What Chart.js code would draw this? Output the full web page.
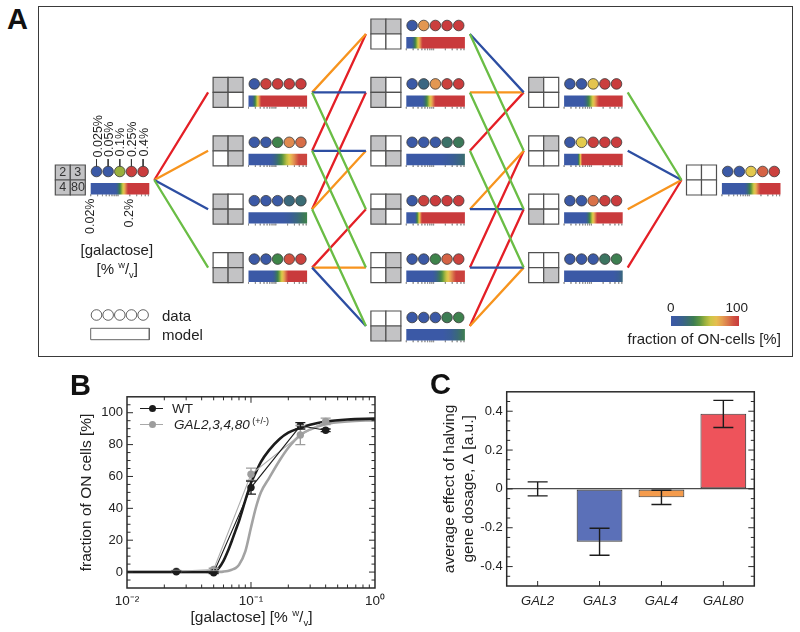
<!DOCTYPE html>
<html><head><meta charset="utf-8">
<script src="https://cdn.jsdelivr.net/npm/chart.js@4.4.1/dist/chart.umd.min.js"></script>
<style>
html,body{margin:0;padding:0;background:#fff}
body{position:relative;width:800px;height:632px;overflow:hidden;font-family:"Liberation Sans",Arial,Helvetica,sans-serif;color:#222}
.t{position:absolute;white-space:nowrap;line-height:1}
.cv{position:absolute}
#frameA{position:absolute;left:37.5px;top:5.5px;width:755px;height:351px;border:1.5px solid #3a3a3a;box-sizing:border-box}
sup,sub{font-size:0.62em;line-height:0}
.mk{position:absolute}
</style></head>
<body>
<div id="frameA"></div>
<div class="cv" style="left:39px;top:7px;width:752px;height:348px"><canvas id="cA" width="752" height="348"></canvas></div>
<div class="cv" style="left:60px;top:385px;width:330px;height:247px"><canvas id="cB" width="330" height="247"></canvas></div>
<div class="cv" style="left:420px;top:380px;width:380px;height:252px"><canvas id="cC" width="380" height="252"></canvas></div>
<!-- legend markers of panel B -->
<div class="mk" style="left:140px;top:407.6px;width:23px;height:1.6px;background:#1c1c1c"></div>
<div class="mk" style="left:149px;top:404.8px;width:7.4px;height:7.4px;border-radius:50%;background:#1c1c1c"></div>
<div class="mk" style="left:140px;top:423.6px;width:23px;height:1.6px;background:#a8a8a8"></div>
<div class="mk" style="left:149px;top:420.8px;width:7.4px;height:7.4px;border-radius:50%;background:#9d9d9d"></div>
<script>
// ================= DATA =================
// Panel A: genotypes (halved genes) per level of the lattice
const genes = ['2', '3', '4', '80'];            // quadrant order: TL, TR, BL, BR
const level0 = [''];
const level1 = ['80', '4', '3', '2'];
const level2 = ['4,80', '3,80', '3,4', '2,80', '2,4', '2,3'];
const level3 = ['3,4,80', '2,4,80', '2,3,80', '2,3,4'];
const level4 = ['2,3,4,80'];
const concentrations = ['0.025%', '0.05%', '0.1%', '0.25%', '0.4%'];
// measured fraction of ON cells [%] at the five concentrations (data circles)
const onLevel0 = [[0, 1, 50, 98, 99]];
const onLevel1 = [[1, 97, 99, 99, 99], [0, 1, 36, 80, 86], [0, 0, 2, 22, 24], [0, 1, 37, 92, 97]];
const onLevel2 = [[1, 77, 98, 99, 99], [0, 20, 77, 97, 99], [0, 0, 1, 27, 31], [1, 97, 99, 99, 99], [0, 1, 36, 88, 96], [0, 0, 1, 33, 35]];
const onLevel3 = [[0, 1, 65, 98, 99], [1, 63, 98, 99, 99], [0, 1, 85, 98, 99], [0, 0, 1, 29, 34]];
const onLevel4 = [[0, 1, 64, 88, 97]];
// model: [switch onset, saturation (fraction of the log-galactose strip), max ON fraction]
const modelLevel0 = [[0.42, 0.64, 1]];
const modelLevel1 = [[0.05, 0.22, 1], [0.36, 0.86, 0.95], [0.58, 1.0, 0.36], [0.40, 0.68, 1]];
const modelLevel2 = [[0.08, 0.28, 1], [0.26, 0.50, 1], [0.60, 1.0, 0.26], [0.14, 0.27, 1], [0.44, 0.85, 0.97], [0.62, 1.0, 0.34]];
const modelLevel3 = [[0.32, 0.60, 1], [0.22, 0.31, 1], [0.36, 0.57, 1], [0.84, 1.0, 0.22]];
const modelLevel4 = [[0.38, 0.66, 1]];
const stripTickValues = [0.02, 0.03, 0.04, 0.05, 0.06, 0.07, 0.08, 0.09, 0.1, 0.2, 0.3, 0.4, 0.5, 0.6];

// Panel B
const galactose = [0.025, 0.05, 0.1, 0.25, 0.4];
const wtOn = [0.2, -0.4, 53, 91.8, 89];
const wtErr = [0.4, 0.5, 4.1, 2, 0.8];
const mutOn = [0.5, 1.6, 61.4, 86, 94.6];
const mutErr = [0.5, 0.8, 3.8, 6, 2];
const fitGalactose = [0.01, 0.02, 0.04, 0.05, 0.055, 0.06, 0.065, 0.07, 0.075, 0.08, 0.09, 0.1, 0.11, 0.12, 0.14, 0.17, 0.2, 0.25, 0.3, 0.4, 0.6, 1];
const wtFit = [0, 0, 0, 0.3, 2.5, 7, 13, 19.5, 26, 32, 45, 56, 63, 69, 76.5, 83.5, 87.5, 90.5, 92.5, 94.5, 95.8, 96.3];
const mutFit = [0, 0, 0, 0, 0.1, 0.3, 0.7, 1.5, 2.5, 4.5, 13, 28, 41, 50, 59, 70, 78, 86, 89.5, 92.8, 94.5, 95.3];
const xTickValuesB = [0.01, 0.1, 1];
const xTickLabelsB = ['10\u207B\u00B2', '10\u207B\u00B9', '10\u2070'];
const yTickValuesB = [0, 20, 40, 60, 80, 100];

// Panel C
const genesC = ['GAL2', 'GAL3', 'GAL4', 'GAL80'];
const delta = [0, -0.272, -0.043, 0.387];
const deltaLo = [-0.036, -0.342, -0.08, 0.316];
const deltaHi = [0.036, -0.203, -0.007, 0.456];
const yTickValuesC = [-0.4, -0.2, 0, 0.2, 0.4];

// ================= STYLE / LAYOUT =================
Chart.defaults.font.family = '"Liberation Sans", Arial, Helvetica, sans-serif';
Chart.defaults.color = '#222';
const geneColors = {'2': '#6abd45', '3': '#2d4ea2', '4': '#f7941e', '80': '#e41f26'};
const barColors = ['#6abd45', '#5b70b8', '#f49b4c', '#ee535b'];
const cmapStops = [
  [0.00, [59, 89, 166]], [0.12, [58, 93, 152]], [0.22, [58, 104, 124]], [0.30, [60, 118, 92]],
  [0.37, [63, 133, 72]], [0.45, [112, 161, 62]], [0.52, [170, 182, 62]], [0.62, [226, 207, 76]],
  [0.71, [232, 175, 82]], [0.79, [225, 143, 80]], [0.87, [214, 104, 70]], [0.94, [205, 72, 63]],
  [1.00, [201, 58, 60]]
];
function cmap(f) {
  f = Math.max(0, Math.min(1, f));
  for (let i = 1; i < cmapStops.length; i++) {
    const [f1, c1] = cmapStops[i], [f0, c0] = cmapStops[i - 1];
    if (f <= f1) {
      const u = (f - f0) / (f1 - f0);
      const c = c0.map((v, j) => Math.round(v + (c1[j] - v) * u));
      return 'rgb(' + c.join(',') + ')';
    }
  }
  return 'rgb(201,58,60)';
}
const A_X = 39, A_Y = 7, A_W = 752, A_H = 348;
const LVL_X0 = 55.3, LVL_DX = 157.8, ROW_Y0 = 180, ROW_DY = 58.4;
const QUAD = 15, CIRC_X0 = 41.2, CIRC_DX = 11.65, CIRC_DY = -8.5, CIRC_R = 5.3;
const STRIP_X0 = 35.4, STRIP_X1 = 94, STRIP_DY = 8.7, STRIP_H = 11.4;
const EDGE_OUT = 99, EDGE_IN = -5;
const LEG_DATA_Y = 315, LEG_MODEL_Y = 334, CBAR_X0 = 671, CBAR_X1 = 739, CBAR_Y = 321;

// ================= PANEL A =================
const levels = [level0, level1, level2, level3, level4];
const onLevels = [onLevel0, onLevel1, onLevel2, onLevel3, onLevel4];
const modelLevels = [modelLevel0, modelLevel1, modelLevel2, modelLevel3, modelLevel4];
const nodes = [];
levels.forEach((arr, L) => arr.forEach((key, i) => {
  nodes.push({key, level: L, bx: LVL_X0 + L * LVL_DX, cy: ROW_Y0 + (i - (arr.length - 1) / 2) * ROW_DY,
              on: onLevels[L][i], sw: modelLevels[L][i]});
}));
const halved = k => k ? k.split(',') : [];

const edgeData = {}; genes.forEach(g => edgeData[g] = []);
nodes.forEach(p => nodes.forEach(c => {
  if (c.level !== p.level + 1) return;
  const ps = halved(p.key), cs = halved(c.key);
  if (!ps.every(g => cs.includes(g))) return;
  const g = cs.find(x => !ps.includes(x));
  edgeData[g].push({x: p.bx + EDGE_OUT, y: p.cy}, {x: c.bx + EDGE_IN, y: c.cy}, {x: c.bx, y: null});
}));

const cellPts = [], cellCols = [];
nodes.forEach(n => { const hs = halved(n.key); genes.forEach((g, gi) => {
  cellPts.push({x: n.bx + QUAD / 2 + QUAD * (gi % 2), y: n.cy - QUAD / 2 + QUAD * Math.floor(gi / 2)});
  cellCols.push(hs.includes(g) ? '#ffffff' : '#c3c3c5');
}); });

const circPts = [], circCols = [];
nodes.forEach(n => n.on.forEach((v, k) => {
  circPts.push({x: n.bx + CIRC_X0 + k * CIRC_DX, y: n.cy + CIRC_DY});
  circCols.push(cmap(v / 100));
}));
concentrations.forEach((c, k) => { circPts.push({x: LVL_X0 + CIRC_X0 + k * CIRC_DX, y: LEG_DATA_Y}); circCols.push('#ffffff'); });

const stripPos = v => Math.log10(v / stripTickValues[0]) / 1.5;
const tickPts = [];
nodes.forEach(n => stripTickValues.forEach(v => {
  const x = n.bx + STRIP_X0 + stripPos(v) * (STRIP_X1 - STRIP_X0);
  const yb = n.cy + STRIP_DY + STRIP_H / 2;
  tickPts.push({x, y: yb}, {x, y: yb + 1.8}, {x, y: null});
}));
// small guide lines from the root circles to the concentration labels
const guidePts = [];
concentrations.forEach((c, k) => { const x = LVL_X0 + CIRC_X0 + k * CIRC_DX;
  guidePts.push({x, y: 159}, {x, y: 168.5}, {x, y: null}); });

function gradientFor(chart, x0, x1, sw) {
  const xs = chart.scales && chart.scales.x;
  if (!xs) return '#3b59a6';
  const p0 = xs.getPixelForValue(x0), p1 = xs.getPixelForValue(x1);
  if (!isFinite(p0) || !isFinite(p1) || p0 === p1) return '#3b59a6';
  const g = chart.ctx.createLinearGradient(p0, 0, p1, 0);
  const [t0, t1, fmax] = sw;
  g.addColorStop(0, cmap(0));
  g.addColorStop(t0, cmap(0));
  const n = 12;
  for (let i = 1; i <= n; i++) g.addColorStop(Math.min(1, t0 + (t1 - t0) * i / n), cmap(fmax * i / n));
  g.addColorStop(1, cmap(fmax));
  return g;
}

const dsA = [];
genes.forEach(g => dsA.push({data: edgeData[g], showLine: true, borderColor: geneColors[g], borderWidth: 2.3,
  pointRadius: 0, spanGaps: false, order: 9}));
nodes.forEach(n => dsA.push({data: [{x: n.bx + STRIP_X0, y: n.cy + STRIP_DY}, {x: n.bx + STRIP_X1, y: n.cy + STRIP_DY}],
  showLine: true, borderWidth: STRIP_H, borderCapStyle: 'butt', pointRadius: 0, order: 5,
  borderColor: ctx => gradientFor(ctx.chart, n.bx + STRIP_X0, n.bx + STRIP_X1, n.sw)}));
dsA.push({data: tickPts, showLine: true, borderColor: '#8a8a8a', borderWidth: 0.7, pointRadius: 0, spanGaps: false, order: 6});
dsA.push({data: guidePts, showLine: true, borderColor: '#333', borderWidth: 0.9, pointRadius: 0, spanGaps: false, order: 6});
// model legend box and colour bar
const mx0 = LVL_X0 + STRIP_X0, mx1 = LVL_X0 + STRIP_X1, mh = STRIP_H / 2;
dsA.push({data: [{x: mx0, y: LEG_MODEL_Y - mh}, {x: mx1, y: LEG_MODEL_Y - mh}, {x: mx1, y: LEG_MODEL_Y + mh}, {x: mx0, y: LEG_MODEL_Y + mh}, {x: mx0, y: LEG_MODEL_Y - mh}],
  showLine: true, borderColor: '#666', borderWidth: 1, pointRadius: 0, order: 6});
dsA.push({data: [{x: CBAR_X0, y: CBAR_Y}, {x: CBAR_X1, y: CBAR_Y}], showLine: true, borderWidth: 10, borderCapStyle: 'butt',
  pointRadius: 0, order: 5, borderColor: ctx => gradientFor(ctx.chart, CBAR_X0, CBAR_X1, [0, 1, 1])});
dsA.push({data: cellPts, pointStyle: 'rect', pointRadius: QUAD / Math.SQRT2, pointBackgroundColor: cellCols,
  pointBorderColor: '#505050', pointBorderWidth: 1.2, order: 2});
dsA.push({data: circPts, pointStyle: 'circle', pointRadius: CIRC_R, pointBackgroundColor: circCols,
  pointBorderColor: '#3a3a3a', pointBorderWidth: 0.8, order: 1});

new Chart(document.getElementById('cA'), {
  type: 'scatter',
  data: {datasets: dsA},
  options: {responsive: false, animation: false, devicePixelRatio: 1, events: [],
    layout: {padding: 0, autoPadding: false},
    plugins: {legend: {display: false}, tooltip: {enabled: false}},
    scales: {x: {type: 'linear', display: false, min: A_X, max: A_X + A_W, bounds: 'data'},
             y: {type: 'linear', display: false, min: A_Y, max: A_Y + A_H, reverse: true, bounds: 'data'}}}
});

// ================= PANEL B =================
const frameB = {id: 'frameB', afterDatasetsDraw(chart) {
  const {ctx, chartArea: a, scales: {x, y}} = chart;
  ctx.save(); ctx.strokeStyle = '#2a2a2a'; ctx.lineWidth = 1;
  ctx.beginPath();
  for (let e = -2; e <= -1; e++) for (let k = 1; k <= 9; k++) {
    const v = k * Math.pow(10, e); if (v <= 0.0100001) continue;
    const px = x.getPixelForValue(v), len = k === 1 ? 6 : 3.5;
    ctx.moveTo(px, a.bottom); ctx.lineTo(px, a.bottom - len);
    ctx.moveTo(px, a.top); ctx.lineTo(px, a.top + len);
  }
  for (let v = -5; v <= 105; v += 5) {
    const py = y.getPixelForValue(v), len = v % 20 === 0 ? 6 : 3.5;
    ctx.moveTo(a.left, py); ctx.lineTo(a.left + len, py);
    ctx.moveTo(a.right, py); ctx.lineTo(a.right - len, py);
  }
  ctx.stroke();
  ctx.lineWidth = 1.5; ctx.strokeRect(a.left, a.top, a.width, a.height);
  ctx.restore();
}};
const errB = {id: 'errB', afterDatasetsDraw(chart) {
  const {ctx, scales: {x, y}} = chart;
  ctx.save(); ctx.lineWidth = 1.3;
  [[mutOn, mutErr, '#9d9d9d'], [wtOn, wtErr, '#1c1c1c']].forEach(([vals, errs, col]) => {
    ctx.strokeStyle = col; ctx.beginPath();
    galactose.forEach((g, i) => {
      const px = x.getPixelForValue(g), y0 = y.getPixelForValue(vals[i] - errs[i]), y1 = y.getPixelForValue(vals[i] + errs[i]);
      ctx.moveTo(px, y0); ctx.lineTo(px, y1);
      ctx.moveTo(px - 5, y0); ctx.lineTo(px + 5, y0); ctx.moveTo(px - 5, y1); ctx.lineTo(px + 5, y1);
    });
    ctx.stroke();
  });
  ctx.restore();
}};
new Chart(document.getElementById('cB'), {
  type: 'scatter',
  data: {datasets: [
    {data: galactose.map((x, i) => ({x, y: wtOn[i]})), showLine: true, borderColor: '#1c1c1c', borderWidth: 1.1,
     pointRadius: 3.7, pointBackgroundColor: '#1c1c1c', pointBorderWidth: 0, order: 1},
    {data: galactose.map((x, i) => ({x, y: mutOn[i]})), showLine: true, borderColor: '#adadad', borderWidth: 1.1,
     pointRadius: 3.7, pointBackgroundColor: '#9d9d9d', pointBorderWidth: 0, order: 2},
    {data: fitGalactose.map((x, i) => ({x, y: wtFit[i]})), showLine: true, borderColor: '#1c1c1c', borderWidth: 2.6,
     pointRadius: 0, cubicInterpolationMode: 'monotone', order: 3},
    {data: fitGalactose.map((x, i) => ({x, y: mutFit[i]})), showLine: true, borderColor: '#a3a3a3', borderWidth: 2.6,
     pointRadius: 0, cubicInterpolationMode: 'monotone', order: 4}
  ]},
  options: {responsive: false, animation: false, devicePixelRatio: 1, events: [],
    layout: {padding: {top: 7.7, right: 14.3, left: 0, bottom: 0}, autoPadding: false},
    plugins: {legend: {display: false}, tooltip: {enabled: false}},
    scales: {
      x: {type: 'logarithmic', min: 0.01, max: 1,
          afterBuildTicks: s => { s.ticks = xTickValuesB.map(v => ({value: v})); },
          ticks: {autoSkip: false, maxRotation: 0, padding: 5, font: {size: 13.5}, color: '#222',
                  callback: v => { const i = xTickValuesB.indexOf(v); return i >= 0 ? xTickLabelsB[i] : ''; }},
          grid: {display: false, drawTicks: false}, border: {display: false},
          afterFit: s => { s.height = 44; }},
      y: {type: 'linear', min: -10, max: 110,
          afterBuildTicks: s => { s.ticks = yTickValuesB.map(v => ({value: v})); },
          ticks: {padding: 4, font: {size: 13}, color: '#222'},
          grid: {display: false, drawTicks: false}, border: {display: false},
          title: {display: true, text: 'fraction of ON cells [%]', font: {size: 15.5}, color: '#222', padding: {top: 17.7, bottom: 0}},
          afterFit: s => { s.width = 67; }}
    }},
  plugins: [frameB, errB]
});

// ================= PANEL C =================
const frameC = {id: 'frameC', afterDatasetsDraw(chart) {
  const {ctx, chartArea: a, scales: {x, y}} = chart;
  ctx.save(); ctx.strokeStyle = '#2a2a2a'; ctx.lineWidth = 1; ctx.beginPath();
  for (let i = -9; i <= 9; i++) {
    const py = y.getPixelForValue(i * 0.05), len = i % 4 === 0 ? 6 : 3.5;
    ctx.moveTo(a.left, py); ctx.lineTo(a.left + len, py);
    ctx.moveTo(a.right, py); ctx.lineTo(a.right - len, py);
  }
  genesC.forEach((g, i) => { const px = x.getPixelForValue(i); ctx.moveTo(px, a.bottom); ctx.lineTo(px, a.bottom - 5); });
  ctx.stroke();
  ctx.lineWidth = 1.5; ctx.strokeRect(a.left, a.top, a.width, a.height);
  ctx.restore();
}};
const errC = {id: 'errC', afterDatasetsDraw(chart) {
  const {ctx, scales: {x, y}} = chart;
  ctx.save(); ctx.strokeStyle = '#1c1c1c'; ctx.lineWidth = 1.4; ctx.beginPath();
  genesC.forEach((g, i) => {
    const px = x.getPixelForValue(i), y0 = y.getPixelForValue(deltaLo[i]), y1 = y.getPixelForValue(deltaHi[i]);
    ctx.moveTo(px, y0); ctx.lineTo(px, y1);
    ctx.moveTo(px - 10, y0); ctx.lineTo(px + 10, y0); ctx.moveTo(px - 10, y1); ctx.lineTo(px + 10, y1);
  });
  ctx.stroke(); ctx.restore();
}};
new Chart(document.getElementById('cC'), {
  type: 'bar',
  data: {labels: genesC, datasets: [{data: delta, backgroundColor: barColors, borderColor: '#3b3b3b', borderWidth: 1.1,
    borderSkipped: false, barPercentage: 0.74, categoryPercentage: 1}]},
  options: {responsive: false, animation: false, devicePixelRatio: 1, events: [],
    layout: {padding: {top: 10, right: 45.7, left: 0, bottom: 0}, autoPadding: false},
    plugins: {legend: {display: false}, tooltip: {enabled: false}},
    scales: {
      x: {grid: {display: false, drawTicks: false}, border: {display: false},
          ticks: {font: {size: 13, style: 'italic'}, color: '#222', padding: 8},
          afterFit: s => { s.height = 46; }},
      y: {min: -0.5, max: 0.5,
          afterBuildTicks: s => { s.ticks = yTickValuesC.map(v => ({value: v})); },
          ticks: {padding: 4, font: {size: 13}, color: '#222', callback: v => v === 0 ? '0' : v.toFixed(1)},
          grid: {drawTicks: false, lineWidth: 1.3, color: c => (c.tick && c.tick.value === 0) ? '#4a4a4a' : 'rgba(0,0,0,0)'},
          border: {display: false},
          title: {display: true, text: ['average effect of halving', 'gene dosage, \u0394 [a.u.]'], font: {size: 15.5}, color: '#222',
                  padding: {top: 20.7, bottom: 0}},
          afterFit: s => { s.width = 86.7; }}
    }},
  plugins: [frameC, errC]
});

// ================= TEXT =================
function addText(html, x, y, size, o = {}) {
  const d = document.createElement('div'); d.className = 't'; d.innerHTML = html;
  d.style.fontSize = size + 'px';
  if (o.bold) d.style.fontWeight = 'bold';
  if (o.italic) d.style.fontStyle = 'italic';
  if (o.color) d.style.color = o.color;
  document.body.appendChild(d);
  const w = d.offsetWidth, h = d.offsetHeight;
  if (o.rot) {
    const cy = o.from === 'top' ? y + w / 2 : y - w / 2;
    d.style.left = (x - w / 2) + 'px'; d.style.top = (cy - h / 2) + 'px';
    d.style.transform = 'rotate(-90deg)';
  } else {
    const a = o.align || 'left';
    d.style.left = (a === 'left' ? x : a === 'center' ? x - w / 2 : x - w) + 'px';
    d.style.top = (y - h / 2) + 'px';
  }
}
addText('A', 7, 19, 29, {bold: true, color: '#111'});
addText('B', 70, 385, 29, {bold: true, color: '#111'});
addText('C', 430, 384, 29, {bold: true, color: '#111'});
genes.forEach((g, gi) => addText(g, LVL_X0 + QUAD / 2 + QUAD * (gi % 2) + (g === '80' ? 0.3 : 0), ROW_Y0 - QUAD / 2 + QUAD * Math.floor(gi / 2), 12.5, {align: 'center', color: '#333'}));
concentrations.forEach((c, k) => addText(c, LVL_X0 + CIRC_X0 + k * CIRC_DX + 1, 157, 12.5, {rot: true, from: 'bottom'}));
addText('0.02%', LVL_X0 + STRIP_X0, 199, 12.5, {rot: true, from: 'top'});
addText('0.2%', LVL_X0 + STRIP_X0 + stripPos(0.2) * (STRIP_X1 - STRIP_X0), 199, 12.5, {rot: true, from: 'top'});
addText('[galactose]', 117, 249, 15, {align: 'center'});
addText('[% <sup>w</sup>/<sub>v</sub>]', 117, 268, 15, {align: 'center'});
addText('data', 162, LEG_DATA_Y, 15);
addText('model', 162, LEG_MODEL_Y, 15);
addText('0', CBAR_X0, 308, 13.5, {align: 'center'});
addText('100', CBAR_X1 - 2, 308, 13.5, {align: 'center'});
addText('fraction of ON-cells [%]', 704, 338, 15, {align: 'center'});
addText('WT', 172, 408.5, 13.5);
addText('<i>GAL2,3,4,80</i><sup style="font-size:9px;vertical-align:5px">&nbsp;(+/-)</sup>', 174, 424.5, 13.5);
addText('[galactose] [% <sup>w</sup>/<sub>v</sub>]', 251.5, 617, 15.5, {align: 'center'});
</script>
</body></html>
